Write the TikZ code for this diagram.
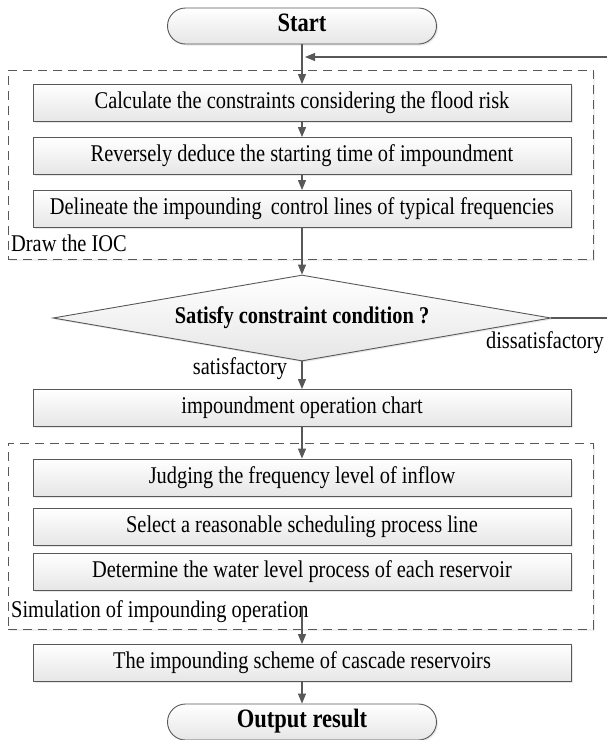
\documentclass[tikz,border=0pt]{standalone}
\usepackage{fontspec}
\setmainfont[FakeStretch=0.85]{Liberation Serif}
\usetikzlibrary{positioning,arrows.meta,shapes.geometric,shapes.misc,shadows}
\definecolor{linegray}{RGB}{88,88,88}
\definecolor{boxbot}{RGB}{230,230,230}

\begin{document}
\begin{tikzpicture}[x=1pt,y=-1pt,
      every node/.style={font=\fontsize{24}{28}\selectfont},
      stepbox/.style={draw=linegray,line width=0.9pt,top color=white,bottom color=boxbot,
                      minimum width=538,minimum height=37,inner sep=0pt,text height=16pt,text depth=5pt,
                      drop shadow={opacity=0.18,shadow xshift=1.5pt,shadow yshift=-1.5pt}},
      term/.style={stepbox,rounded rectangle,minimum width=269,minimum height=36,
                   font=\fontsize{26.5}{30}\selectfont\bfseries},
      cond/.style={stepbox,diamond,aspect=5.8,minimum width=498,minimum height=86,
                   font=\fontsize{24}{28}\selectfont\bfseries},
      grp/.style={draw=linegray,line width=0.9pt,dash pattern=on 9pt off 6pt,fill=white,
                  minimum width=585,inner sep=0pt,
                  drop shadow={opacity=0.12,shadow xshift=1.5pt,shadow yshift=-1.5pt}},
      tag/.style={anchor=west,inner sep=0pt},
      conn/.style={draw=linegray,line width=1.1pt,-{Triangle[length=10pt,width=8pt]}}]
                      \useasboundingbox (0,0) rectangle (607,740);

                      \node[grp,minimum height=189] (ioc) at (300.5,164.5) {};
                      \node[grp,minimum height=186] (sim) at (300.5,536) {};
                      \node[tag] (iocl) at (11,243) {Draw the IOC};
                      \node[tag] (siml) at (11,612) {Simulation of impounding operation};

                      \node[term] (start) at (302,26) {Start};
                      \node[stepbox] (calc) at (302,103) {Calculate the constraints considering the flood risk};
                      \node[stepbox] (rev) at (302,156) {Reversely deduce the starting time of impoundment};
                      \node[stepbox] (del) at (302,209) {Delineate the impounding\, control lines of typical frequencies};
                      \node[cond] (dec) at (302,318) {Satisfy constraint condition ?};
                      \node[stepbox] (chart) at (302,408) {impoundment operation chart};
                      \node[stepbox] (judge) at (302,477.5) {Judging the frequency level of inflow};
                      \node[stepbox] (sel) at (302,527) {Select a reasonable scheduling process line};
                      \node[stepbox] (det) at (302,572) {Determine the water level process of each reservoir};
                      \node[stepbox] (scheme) at (302,663) {The impounding scheme of cascade reservoirs};
                      \node[term] (out) at (302,722) {Output result};

                      \node (sat) at (240,369) {satisfactory};
                      \node (dis) at (545,343) {dissatisfactory};
                      \coordinate (back) at (305,57);
                      \coordinate (simout) at (302,606);

                      \draw[conn] (start.south) -- (calc.north);
                      \draw[conn] (calc.south) -- (rev.north);
                      \draw[conn] (rev.south) -- (del.north);
                      \draw[conn] (del.south) -- (dec.north);
                      \draw[conn] (dec.south) -- (chart.north);
                      \draw[conn] (chart.south) -- (judge.north);
                      \draw[conn] (simout) -- (scheme.north);
                      \draw[conn] (scheme.south) -- (out.north);
                      \draw[conn] (dec.east) -- ++(80,0) |- (back);
                    \end{tikzpicture}
\end{document}
